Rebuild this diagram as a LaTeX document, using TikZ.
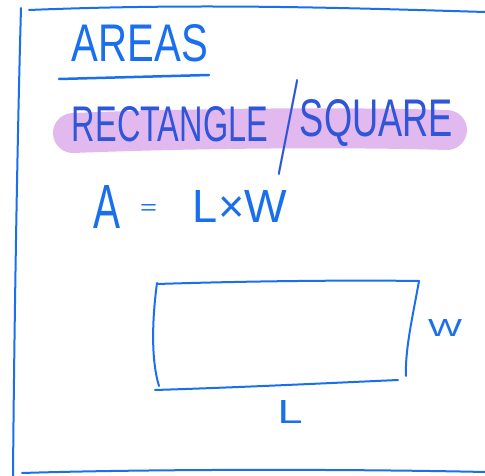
\documentclass[tikz,border=0pt]{standalone}
\usepackage{fontspec}
\newfontfamily\handfont{Liberation Sans}
\definecolor{ink}{HTML}{1A6FEE}
\definecolor{inkdark}{HTML}{2F55D8}
\definecolor{marker}{HTML}{E2B9EF}
\begin{document}
\begin{tikzpicture}[x=1pt,y=-1pt,
  pen/.style={draw=ink,line width=2pt,line cap=round,line join=round},
  hand/.style={inner sep=0pt,text=ink,font=\handfont},
  handdark/.style={inner sep=0pt,text=inkdark,font=\handfont}]
\useasboundingbox (0,0) rectangle (485,476);
\fill[white] (0,0) rectangle (485,476);

% page frame
\draw[pen] (29,10) .. controls (200,3) and (350,8) .. (485,12);
\draw[pen] (21,8) .. controls (17,150) and (14,350) .. (13,476);
\draw[pen] (22,473) .. controls (150,469) and (350,469) .. (485,472);

% title
\node[hand] (title) at (140,43.5) {\resizebox{136pt}{37pt}{AREAS}};
\draw[pen,line width=2.5pt] (59,79) -- (209,75);

% marker highlight
\draw[marker,line width=40pt,line cap=round] (73,133) .. controls (200,128) and (350,127) .. (447,130);

% subtitle
\node[handdark] (rect) at (170,124.5) {\resizebox{196pt}{35pt}{RECTANGLE}};
\node[inner sep=0pt,text=inkdark] (slash) at (288,128) {\resizebox{26pt}{72pt}{/}};
\node[handdark] (square) at (376.5,123.5) {\resizebox{153pt}{37pt}{SQUARE}};

% formula
\node[hand] (areaA) at (106.5,206.5) {\resizebox{27pt}{43pt}{A}};
\node[hand] (eq) at (148.5,210) {\resizebox{17pt}{10pt}{=}};
\node[hand] (lw) at (240,206) {\resizebox{94pt}{32pt}{L×W}};

% rectangle sketch
\draw[pen] (157,284) .. controls (250,281) and (350,280) .. (419,281);
\draw[pen] (419,281) .. controls (412,320) and (405,350) .. (406,376);
\draw[pen] (157,283) .. controls (152,320) and (151,360) .. (159,386);
\draw[pen] (155,390) .. controls (250,387) and (330,383) .. (398,380);

% side labels
\node[hand] (wlab) at (445,328) {\resizebox{34pt}{17pt}{W}};
\node[hand] (llab) at (290,412) {\resizebox{25pt}{23pt}{L}};
\end{tikzpicture}
\end{document}
